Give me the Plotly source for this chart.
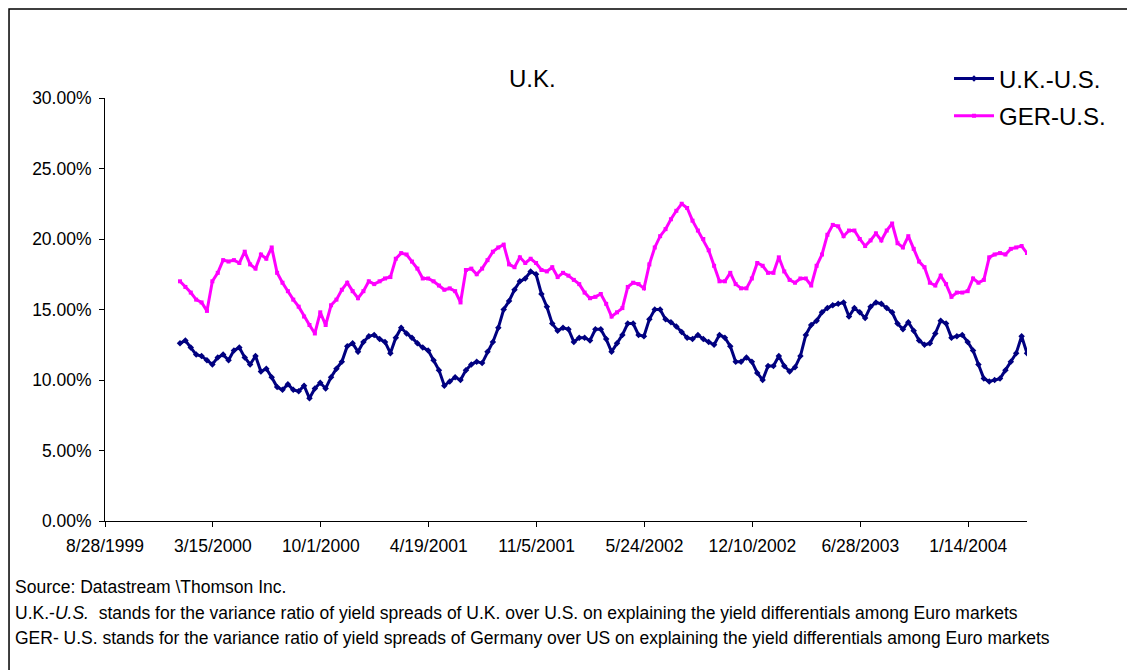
import numpy as np
import pandas as pd
import plotly.graph_objects as go

# values every 10 days, from 14 Jan 2000 (percent)
start_date = "2000-01-14"
step = "10D"

uk_us = [
    12.6, 12.8, 12.3, 11.8, 11.7, 11.4, 11.1, 11.6, 11.8, 11.4,
    12.1, 12.3, 11.6, 11.1, 11.7, 10.6, 10.8, 10.2, 9.5, 9.3,
    9.7, 9.3, 9.2, 9.6, 8.7, 9.4, 9.8, 9.4, 10.2, 10.8,
    11.3, 12.4, 12.6, 12.0, 12.7, 13.1, 13.2, 12.9, 12.7, 11.9,
    13.0, 13.7, 13.3, 13.0, 12.6, 12.3, 12.1, 11.4, 10.7, 9.6,
    9.9, 10.2, 10.0, 10.7, 11.1, 11.3, 11.2, 12.0, 12.7, 13.7,
    15.0, 15.6, 16.4, 17.0, 17.2, 17.7, 17.5, 16.1, 15.2, 14.0,
    13.5, 13.7, 13.6, 12.7, 13.0, 13.0, 12.8, 13.6, 13.6, 12.9,
    12.0, 12.6, 13.2, 14.0, 14.0, 13.2, 13.1, 14.3, 15.0, 15.0,
    14.3, 14.1, 13.8, 13.4, 13.0, 12.9, 13.2, 12.9, 12.7, 12.5,
    13.2, 13.0, 12.4, 11.3, 11.3, 11.6, 11.3, 10.5, 10.0, 11.0,
    11.0, 11.7, 11.0, 10.6, 10.9, 11.7, 13.2, 13.9, 14.2, 14.8,
    15.1, 15.3, 15.4, 15.5, 14.5, 15.1, 14.8, 14.4, 15.2, 15.5,
    15.4, 15.1, 14.8, 14.0, 13.6, 14.1, 13.5, 12.8, 12.5, 12.6,
    13.3, 14.2, 14.0, 13.0, 13.1, 13.2, 12.7, 12.1, 11.1, 10.1,
    9.9, 10.0, 10.1, 10.7, 11.3, 11.9, 13.1, 11.9,
]

ger_us = [
    17.0, 16.6, 16.2, 15.7, 15.5, 14.9, 17.0, 17.6, 18.5, 18.4,
    18.5, 18.3, 19.1, 18.2, 17.9, 18.9, 18.6, 19.4, 17.6, 16.9,
    16.3, 15.7, 15.2, 14.5, 13.9, 13.3, 14.8, 13.9, 15.3, 15.7,
    16.4, 16.9, 16.3, 15.8, 16.3, 17.0, 16.8, 17.0, 17.2, 17.3,
    18.6, 19.0, 18.9, 18.4, 17.9, 17.2, 17.2, 17.0, 16.7, 16.4,
    16.5, 16.3, 15.5, 17.8, 17.9, 17.5, 17.9, 18.5, 19.1, 19.4,
    19.6, 18.2, 18.0, 18.7, 18.3, 18.6, 18.3, 17.8, 17.7, 18.0,
    17.3, 17.6, 17.4, 17.1, 16.8, 16.2, 15.8, 15.9, 16.1, 15.4,
    14.5, 14.8, 15.1, 16.6, 16.9, 16.8, 16.5, 18.2, 19.4, 20.2,
    20.7, 21.4, 22.0, 22.5, 22.2, 21.3, 20.6, 20.0, 19.2, 18.1,
    17.0, 17.0, 17.6, 16.8, 16.5, 16.5, 17.2, 18.3, 18.1, 17.6,
    17.6, 18.7, 17.7, 17.1, 16.9, 17.2, 17.2, 16.7, 18.1, 18.9,
    20.3, 21.0, 20.9, 20.2, 20.6, 20.6, 20.0, 19.5, 19.9, 20.4,
    19.9, 20.6, 21.1, 19.7, 19.4, 20.2, 19.3, 18.4, 18.0, 16.9,
    16.7, 17.4, 16.8, 15.9, 16.2, 16.2, 16.3, 17.2, 16.9, 17.1,
    18.7, 18.9, 19.0, 18.9, 19.3, 19.4, 19.5, 19.0,
]

tick_labels = [
    "8/28/1999", "3/15/2000", "10/1/2000", "4/19/2001", "11/5/2001",
    "5/24/2002", "12/10/2002", "6/28/2003", "1/14/2004",
]

notes = [
    "Source: Datastream \\Thomson Inc.",
    "U.K.-<i>U.S.</i>  stands for the variance ratio of yield spreads of U.K. over U.S. on explaining the yield differentials among Euro markets",
    "GER- U.S. stands for the variance ratio of yield spreads of Germany over US on explaining the yield differentials among Euro markets",
]

dates = pd.date_range(start_date, periods=len(uk_us), freq=step)
tick_dates = pd.to_datetime(tick_labels, format="%m/%d/%Y")

FONT = "Liberation Sans, Arial, sans-serif"

fig = go.Figure()
fig.add_trace(go.Scatter(
    x=dates, y=np.array(uk_us) / 100, name="U.K.-U.S.",
    mode="lines+markers", legendgroup="uk",
    line=dict(color="#000080", width=3),
    marker=dict(symbol="diamond", size=5, color="#000080"),
))
fig.add_trace(go.Scatter(
    x=dates, y=np.array(ger_us) / 100, name="GER-U.S.",
    mode="lines+markers", legendgroup="ger",
    line=dict(color="#FF00FF", width=3),
    marker=dict(symbol="square", size=4, color="#FF00FF"),
))

fig.update_layout(
    width=1127,
    height=662,
    margin=dict(l=97, r=108, t=90, b=149),
    paper_bgcolor="white",
    plot_bgcolor="white",
    font=dict(family=FONT, size=17.5, color="black"),
    showlegend=True,
    legend=dict(
        x=0.9154, y=1.0985, xanchor="left", yanchor="top",
        font=dict(size=24),
        bgcolor="rgba(0,0,0,0)",
        traceorder="grouped",
        tracegroupgap=3,
        itemwidth=40,
    ),
    xaxis=dict(
        type="date",
        range=[tick_dates[0], dates[-1]],
        tickvals=tick_dates,
        ticktext=tick_labels,
        ticks="outside", ticklen=5, tickcolor="black",
        ticklabelstandoff=4,
        showline=True, linecolor="black", linewidth=1,
        showgrid=False, zeroline=False,
    ),
    yaxis=dict(
        range=[0, 0.30],
        dtick=0.05,
        tickformat=".2%",
        ticks="outside", ticklen=5, tickcolor="black",
        ticklabelstandoff=4,
        showline=True, linecolor="black", linewidth=1,
        showgrid=False, zeroline=False,
    ),
)

# chart title
fig.add_annotation(
    text="U.K.", xref="paper", yref="paper", x=0.4642, y=1.045,
    showarrow=False, font=dict(size=24), xanchor="center", yanchor="middle",
)

# footnotes under the chart
for i, note in enumerate(notes):
    fig.add_annotation(
        text=note, xref="paper", yref="paper",
        x=-0.0998, y=-0.157 - i * 0.0595,
        showarrow=False, xanchor="left", yanchor="middle",
        font=dict(size=17.5),
    )

# outer frame of the chart area
fig.add_shape(
    type="rect", xref="paper", yref="paper",
    x0=-0.1041, x1=1.15, y0=-0.40, y1=1.2104,
    line=dict(color="black", width=1.5),
)

fig.write_html("out.html")
